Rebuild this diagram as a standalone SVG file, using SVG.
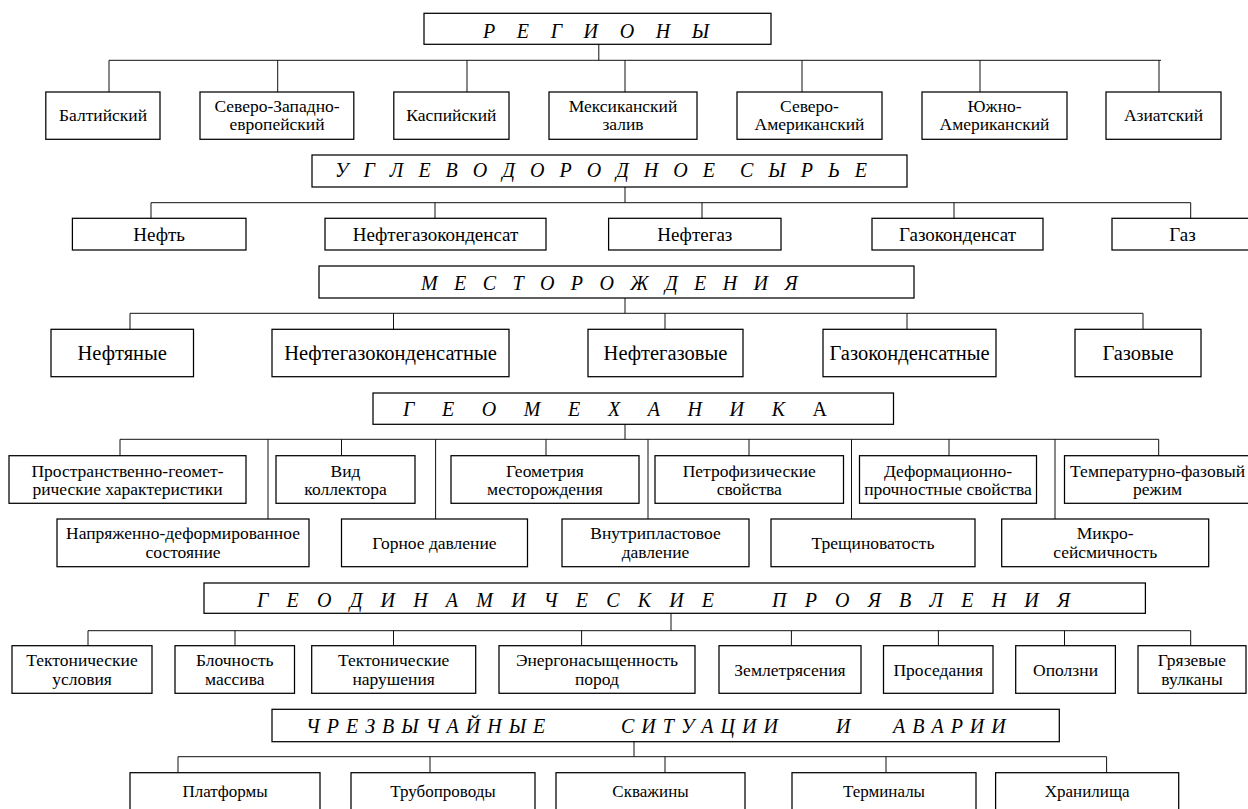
<svg xmlns="http://www.w3.org/2000/svg" width="1248" height="809" viewBox="0 0 1248 809">
<style>
.bx{fill:#fff;stroke:#000;stroke-width:1.25}
.ln{fill:none;stroke:#111;stroke-width:1}
text{font-family:"Liberation Serif","Times New Roman","DejaVu Serif",serif;fill:#000}
.h{font-size:20px;font-style:italic;white-space:pre}
.n{text-anchor:middle;font-size:17.5px}
.r2{font-size:19px}
.r3{font-size:20.5px}
.r6{font-size:17px}
</style>
<rect width="1248" height="809" fill="#fff"/>
<g id="connectors" class="ln">
<path d="M598.8 44.3V60.3M109 60.3H1161M109 60.3V92M277.7 60.3V92M467 60.3V92M625 60.3V92M802 60.3V92M980 60.3V92M1159 60.3V92"/>
<path d="M625 187V202.7M151 202.7H1190.7M151 202.7V218.3M435 202.7V218.3M702 202.7V218.3M954 202.7V218.3M1190.7 202.7V218.3"/>
<path d="M625 298V313.3M130 313.3H1143M130 313.3V329.3M393.5 313.3V329.3M665 313.3V329.3M907 313.3V329.3M1143 313.3V329.3"/>
<path d="M625 424.3V439.3M120 439.3H1158.7M120 439.3V455.7M341.5 439.3V455.7M546 439.3V455.7M749 439.3V455.7M949 439.3V455.7M1158.7 439.3V455.7M268 439.3V519M435.6 439.3V519M648 439.3V519M851.5 439.3V519M1055 439.3V519"/>
<path d="M671 613.3V630.7M88 630.7H1190.7M88 630.7V645.7M235 630.7V645.7M393.5 630.7V645.7M581.6 630.7V645.7M791.4 630.7V645.7M938.4 630.7V645.7M1064.5 630.7V645.7M1190.7 630.7V645.7"/>
<path d="M634 741.7V756.7M178 756.7H1106.6M178 756.7V772.7M430 756.7V772.7M665 756.7V772.7M886 756.7V772.7M1106.6 756.7V772.7"/>
</g>
<g id="h1"><rect class="bx" x="424" y="13.3" width="347" height="31"/><text class="h" x="483" y="38" letter-spacing="8.3">Р Е Г И О Н Ы</text></g>
<g id="r1-1"><rect class="bx" x="45.8" y="92" width="114.2" height="47.3"/><text class="n" x="103" y="121">Балтийский</text></g>
<g id="r1-2"><rect class="bx" x="200" y="92" width="153.8" height="47.3"/><text class="n" x="277" y="112">Северо-Западно-</text><text class="n" x="277" y="130">европейский</text></g>
<g id="r1-3"><rect class="bx" x="393.8" y="92" width="115.2" height="47.3"/><text class="n" x="451.4" y="121">Каспийский</text></g>
<g id="r1-4"><rect class="bx" x="549" y="92" width="148" height="47.3"/><text class="n" x="623" y="112">Мексиканский</text><text class="n" x="623" y="130">залив</text></g>
<g id="r1-5"><rect class="bx" x="737" y="92" width="145" height="47.3"/><text class="n" x="809.5" y="112">Северо-</text><text class="n" x="809.5" y="130">Американский</text></g>
<g id="r1-6"><rect class="bx" x="922" y="92" width="145" height="47.3"/><text class="n" x="994.5" y="112">Южно-</text><text class="n" x="994.5" y="130">Американский</text></g>
<g id="r1-7"><rect class="bx" x="1106" y="92" width="115" height="47.3"/><text class="n" x="1163.5" y="121">Азиатский</text></g>
<g id="h2"><rect class="bx" x="312" y="155" width="595" height="32"/><text class="h" y="177" letter-spacing="5"><tspan x="335">У Г Л Е В О Д О Р О Д Н О Е </tspan><tspan x="740">С Ы Р Ь Е</tspan></text></g>
<g id="r2-1"><rect class="bx" x="72.4" y="218.3" width="173.6" height="31.7"/><text class="n r2" x="159.2" y="240.5">Нефть</text></g>
<g id="r2-2"><rect class="bx" x="325" y="218.3" width="221" height="31.7"/><text class="n r2" x="435.5" y="240.5">Нефтегазоконденсат</text></g>
<g id="r2-3"><rect class="bx" x="608.6" y="218.3" width="172.4" height="31.7"/><text class="n r2" x="694.8" y="240.5">Нефтегаз</text></g>
<g id="r2-4"><rect class="bx" x="872" y="218.3" width="171" height="31.7"/><text class="n r2" x="957.5" y="240.5">Газоконденсат</text></g>
<g id="r2-5"><rect class="bx" x="1112" y="218.3" width="141" height="31.7"/><text class="n r2" x="1182.5" y="240.5">Газ</text></g>
<g id="h3"><rect class="bx" x="319" y="266" width="595" height="32"/><text class="h" x="421" y="290" letter-spacing="5.7">М Е С Т О Р О Ж Д Е Н И Я</text></g>
<g id="r3-1"><rect class="bx" x="51" y="329.3" width="142.5" height="47.4"/><text class="n r3" x="122.25" y="360">Нефтяные</text></g>
<g id="r3-2"><rect class="bx" x="272" y="329.3" width="237" height="47.4"/><text class="n r3" x="390.5" y="360">Нефтегазоконденсатные</text></g>
<g id="r3-3"><rect class="bx" x="588" y="329.3" width="155" height="47.4"/><text class="n r3" x="665.5" y="360">Нефтегазовые</text></g>
<g id="r3-4"><rect class="bx" x="823" y="329.3" width="173" height="47.4"/><text class="n r3" x="909.5" y="360">Газоконденсатные</text></g>
<g id="r3-5"><rect class="bx" x="1075" y="329.3" width="126" height="47.4"/><text class="n r3" x="1138" y="360">Газовые</text></g>
<g id="h4"><rect class="bx" x="373" y="393" width="520.5" height="31.3"/><text class="h" x="403" y="416" letter-spacing="11.3">Г Е О М Е Х А Н И К <tspan font-style="normal">А</tspan></text></g>
<g id="r4-1"><rect class="bx" x="9" y="455.7" width="237" height="47.6"/><text class="n" x="127.5" y="477">Пространственно-геомет-</text><text class="n" x="127.5" y="495">рические характеристики</text></g>
<g id="r4-2"><rect class="bx" x="276" y="455.7" width="139" height="47.6"/><text class="n" x="345.5" y="477">Вид</text><text class="n" x="345.5" y="495">коллектора</text></g>
<g id="r4-3"><rect class="bx" x="451" y="455.7" width="188" height="47.6"/><text class="n" x="545" y="477">Геометрия</text><text class="n" x="545" y="495">месторождения</text></g>
<g id="r4-4"><rect class="bx" x="655" y="455.7" width="188.5" height="47.6"/><text class="n" x="749.25" y="477">Петрофизические</text><text class="n" x="749.25" y="495">свойства</text></g>
<g id="r4-5"><rect class="bx" x="859.5" y="455.7" width="177" height="47.6"/><text class="n" x="948" y="477">Деформационно-</text><text class="n" x="948" y="495">прочностные свойства</text></g>
<g id="r4-6"><rect class="bx" x="1064.5" y="455.7" width="186.5" height="47.6"/><text class="n" x="1157.6" y="477">Температурно-фазовый</text><text class="n" x="1157.6" y="495">режим</text></g>
<g id="r4-7"><rect class="bx" x="57" y="519" width="252" height="47.7"/><text class="n" x="183" y="539">Напряженно-деформированное</text><text class="n" x="183" y="558">состояние</text></g>
<g id="r4-8"><rect class="bx" x="341.5" y="519" width="186" height="47.7"/><text class="n" x="434.5" y="549">Горное давление</text></g>
<g id="r4-9"><rect class="bx" x="562" y="519" width="187" height="47.7"/><text class="n" x="655.5" y="539">Внутрипластовое</text><text class="n" x="655.5" y="558">давление</text></g>
<g id="r4-10"><rect class="bx" x="771" y="519" width="204" height="47.7"/><text class="n" x="873" y="549">Трещиноватость</text></g>
<g id="r4-11"><rect class="bx" x="1001.7" y="519" width="207" height="47.7"/><text class="n" x="1105.2" y="539">Микро-</text><text class="n" x="1105.2" y="558">сейсмичность</text></g>
<g id="h5"><rect class="bx" x="204" y="583" width="941.4" height="30.3"/><text class="h" y="607" letter-spacing="6.6"><tspan x="257">Г Е О Д И Н А М И Ч Е С К И Е </tspan><tspan x="772">П Р О Я В Л Е Н И Я</tspan></text></g>
<g id="r5-1"><rect class="bx" x="12" y="645.7" width="140" height="47.6"/><text class="n" x="82" y="666">Тектонические</text><text class="n" x="82" y="685">условия</text></g>
<g id="r5-2"><rect class="bx" x="175" y="645.7" width="119.5" height="47.6"/><text class="n" x="234.75" y="666">Блочность</text><text class="n" x="234.75" y="685">массива</text></g>
<g id="r5-3"><rect class="bx" x="311.7" y="645.7" width="164" height="47.6"/><text class="n" x="393.7" y="666">Тектонические</text><text class="n" x="393.7" y="685">нарушения</text></g>
<g id="r5-4"><rect class="bx" x="499" y="645.7" width="196" height="47.6"/><text class="n" x="597" y="666">Энергонасыщенность</text><text class="n" x="597" y="685">пород</text></g>
<g id="r5-5"><rect class="bx" x="719" y="645.7" width="142" height="47.6"/><text class="n" x="790" y="675.5">Землетрясения</text></g>
<g id="r5-6"><rect class="bx" x="883.5" y="645.7" width="109.5" height="47.6"/><text class="n" x="938.25" y="675.5">Проседания</text></g>
<g id="r5-7"><rect class="bx" x="1015.7" y="645.7" width="99.7" height="47.6"/><text class="n" x="1065.55" y="675.5">Оползни</text></g>
<g id="r5-8"><rect class="bx" x="1138" y="645.7" width="108" height="47.6"/><text class="n" x="1192" y="666">Грязевые</text><text class="n" x="1192" y="685">вулканы</text></g>
<g id="h6"><rect class="bx" x="272" y="709.3" width="787.3" height="32.4"/><text class="h" y="733" letter-spacing="1"><tspan x="306">Ч Р Е З В Ы Ч А Й Н Ы Е </tspan><tspan x="621">С И Т У А Ц И И </tspan><tspan x="836">И </tspan><tspan x="893">А В А Р И И</tspan></text></g>
<g id="r6-1"><rect class="bx" x="130" y="772.7" width="190" height="48"/><text class="n r6" x="225" y="797">Платформы</text></g>
<g id="r6-2"><rect class="bx" x="351" y="772.7" width="184" height="48"/><text class="n r6" x="443" y="797">Трубопроводы</text></g>
<g id="r6-3"><rect class="bx" x="556" y="772.7" width="189" height="48"/><text class="n r6" x="650.5" y="797">Скважины</text></g>
<g id="r6-4"><rect class="bx" x="792" y="772.7" width="184" height="48"/><text class="n r6" x="884" y="797">Терминалы</text></g>
<g id="r6-5"><rect class="bx" x="995.6" y="772.7" width="183.1" height="48"/><text class="n r6" x="1087.15" y="797">Хранилища</text></g>
</svg>
